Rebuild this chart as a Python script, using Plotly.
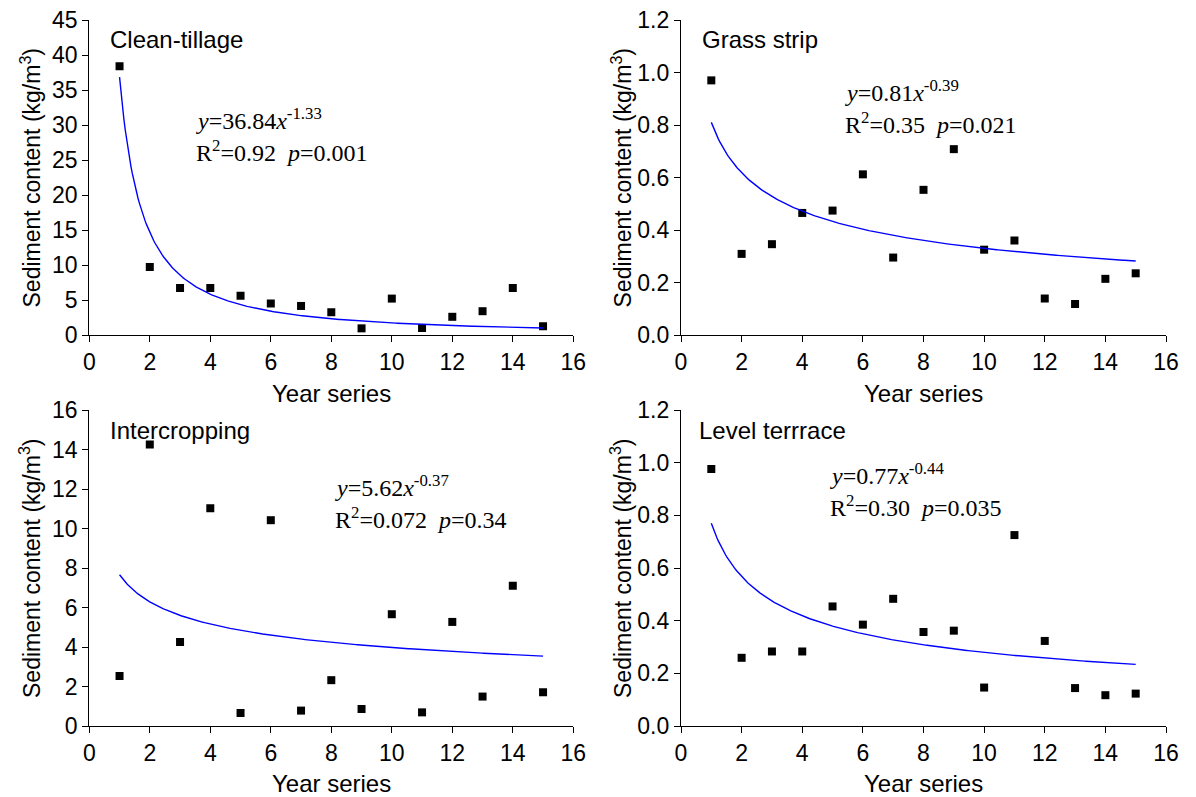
import numpy as np
import plotly.graph_objects as go

W, H = 1196, 797

years = list(range(1, 16))
clean_tillage = [38.4, 9.7, 6.7, 6.7, 5.6, 4.5, 4.15, 3.25, 0.95, 5.2, 1.0, 2.6, 3.4, 6.7, 1.25]
grass_strip = [0.970, 0.309, 0.346, 0.465, 0.474, 0.612, 0.295, 0.553, 0.708, 0.325, 0.360, 0.139, 0.118, 0.214, 0.235]
intercropping = [2.53, 14.25, 4.25, 11.02, 0.66, 10.42, 0.78, 2.32, 0.86, 5.66, 0.69, 5.27, 1.49, 7.10, 1.71]
level_terrace = [0.976, 0.259, 0.283, 0.283, 0.454, 0.385, 0.483, 0.357, 0.362, 0.146, 0.725, 0.323, 0.144, 0.117, 0.123]

panel_names = ["Clean-tillage", "Grass strip", "Intercropping", "Level terrrace"]
# power-law fit curves y = a * x^b as drawn in each panel
fit_a = [36.84, 0.81, 7.66, 0.77]
fit_b = [-1.33, -0.39, -0.285, -0.44]
eq_text = [
    ("<i>y</i>=36.84<i>x</i><sup>-1.33</sup>", "R<sup>2</sup>=0.92  <i>p</i>=0.001"),
    ("<i>y</i>=0.81<i>x</i><sup>-0.39</sup>", "R<sup>2</sup>=0.35  <i>p</i>=0.021"),
    ("<i>y</i>=5.62<i>x</i><sup>-0.37</sup>", "R<sup>2</sup>=0.072  <i>p</i>=0.34"),
    ("<i>y</i>=0.77<i>x</i><sup>-0.44</sup>", "R<sup>2</sup>=0.30  <i>p</i>=0.035"),
]
y_ranges = [[0, 45], [0, 1.2], [0, 16], [0, 1.2]]
y_dticks = [5, 0.2, 2, 0.2]
y_formats = ["d", ".1f", "d", ".1f"]
x_range = [0, 16]
x_dtick = 2
x_title = "Year series"
y_title = "Sediment content (kg/m<sup>3</sup>)"

series = [clean_tillage, grass_strip, intercropping, level_terrace]

# pixel layout of each panel: (left, right, top, bottom)
boxes = [(89.3, 573.3, 20, 335), (681, 1166, 20, 335),
         (89.3, 573.3, 410, 726), (681, 1166, 410, 726)]
title_pos = [(108, 40), (700, 40), (108, 430), (697, 430)]
eq_pos = [(194, 119, 151), (843, 91, 123), (333, 486, 518), (828, 474, 506)]
xtitle_y = [393, 393, 783, 783]
ytitle_x = [30, 621, 30, 621]

SANS = "Liberation Sans, Arial, sans-serif"
SERIF = "Liberation Serif, Times New Roman, serif"
FS = 23

fig = go.Figure()
layout = dict(width=W, height=H, margin=dict(l=0, r=0, t=0, b=0, autoexpand=False),
              plot_bgcolor="white", paper_bgcolor="white", showlegend=False)
annotations = []

for i in range(4):
    xa = "x" if i == 0 else f"x{i+1}"
    ya = "y" if i == 0 else f"y{i+1}"
    l, r, t, b = boxes[i]
    xd = [l / W, r / W]
    yd = [1 - b / H, 1 - t / H]
    fig.add_trace(go.Scatter(x=years, y=series[i], mode="markers", xaxis=xa, yaxis=ya,
                             marker=dict(symbol="square", size=8, color="black")))
    xc = np.linspace(1, 15, 300)
    yc = fit_a[i] * xc ** fit_b[i]
    fig.add_trace(go.Scatter(x=xc, y=yc, mode="lines", xaxis=xa, yaxis=ya,
                             line=dict(color="#0000FF", width=1.4)))
    axis_common = dict(showgrid=False, zeroline=False, showline=True, linecolor="black",
                       linewidth=1.3, ticks="outside", ticklen=6, tickwidth=1.3, automargin=False,
                       tickcolor="black", tickfont=dict(family=SANS, size=FS, color="black"))
    layout["xaxis" if i == 0 else f"xaxis{i+1}"] = dict(
        domain=xd, range=x_range, dtick=x_dtick, tick0=0, anchor=ya, **axis_common)
    layout["yaxis" if i == 0 else f"yaxis{i+1}"] = dict(
        domain=yd, range=y_ranges[i], dtick=y_dticks[i], tick0=0, tickformat=y_formats[i],
        anchor=xa, **axis_common)
    tx, ty = title_pos[i]
    annotations.append(dict(x=tx / W, y=1 - ty / H, xref="paper", yref="paper",
                            text=panel_names[i], showarrow=False, xanchor="left", yanchor="middle",
                            font=dict(family=SANS, size=24, color="black")))
    ex, ey1, ey2 = eq_pos[i]
    annotations.append(dict(x=ex / W, y=1 - ey1 / H, xref="paper", yref="paper",
                            text=eq_text[i][0], showarrow=False, xanchor="left", yanchor="middle",
                            font=dict(family=SERIF, size=24, color="black")))
    annotations.append(dict(x=ex / W, y=1 - ey2 / H, xref="paper", yref="paper",
                            text=eq_text[i][1], showarrow=False, xanchor="left", yanchor="middle",
                            font=dict(family=SERIF, size=24, color="black")))
    annotations.append(dict(x=(l + r) / 2 / W, y=1 - xtitle_y[i] / H, xref="paper", yref="paper",
                            text=x_title, showarrow=False, xanchor="center", yanchor="middle",
                            font=dict(family=SANS, size=24, color="black")))
    annotations.append(dict(x=ytitle_x[i] / W, y=1 - (t + b) / 2 / H, xref="paper", yref="paper",
                            text=y_title, showarrow=False, xanchor="center", yanchor="middle",
                            textangle=-90, font=dict(family=SANS, size=FS, color="black")))

layout["annotations"] = annotations
fig.update_layout(**layout)
fig.write_html("out.html")
